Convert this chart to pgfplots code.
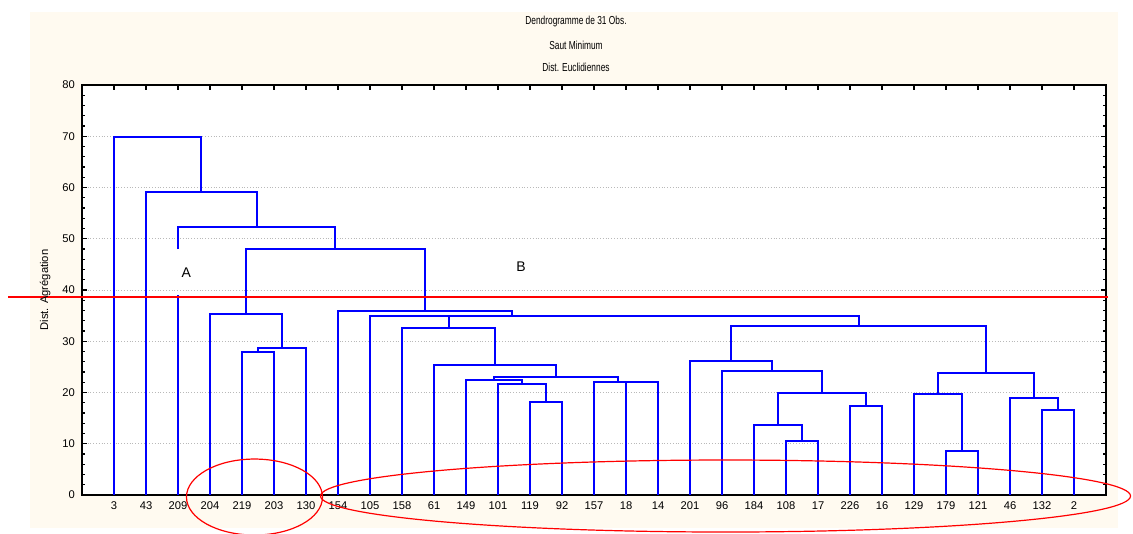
\documentclass[border=0pt]{standalone}
\usepackage{fontspec}
\setmainfont{Liberation Sans}
\newfontfamily\narrowfont[FakeStretch=0.72]{Liberation Sans}
\usepackage{pgfplots}
\pgfplotsset{compat=1.18}
\definecolor{cream}{RGB}{255,250,240}
\definecolor{dblue}{RGB}{0,0,255}
\newcommand{\lnk}[5]{\addplot[dend] coordinates {(#1,#2) (#1,#5) (#3,#5) (#3,#4)};}
\begin{document}
\begin{tikzpicture}
\useasboundingbox (0pt,0pt) rectangle (566.5pt,267pt);
\fill[white] (0pt,0pt) rectangle (566.5pt,267pt);
\fill[cream] (15pt,3pt) rectangle (559pt,261pt);
\node[font=\narrowfont\fontsize{5.8}{6}\selectfont] at (288pt,256pt) {Dendrogramme de 31 Obs.};
\node[font=\narrowfont\fontsize{5.8}{6}\selectfont] at (288pt,244.5pt) {Saut Minimum};
\node[font=\narrowfont\fontsize{5.8}{6}\selectfont] at (288pt,233.5pt) {Dist. Euclidiennes};
\begin{axis}[
  scale only axis, width=512pt, height=205pt,
  at={(41pt,19.5pt)}, anchor=south west,
  xmin=0, xmax=32, ymin=0, ymax=80,
  axis background/.style={fill=white},
  xtick={1,...,31},
  xticklabels={3,43,209,204,219,203,130,154,105,158,61,149,101,119,92,157,18,14,201,96,184,108,17,226,16,129,179,121,46,132,2},
  ytick={0,10,...,80}, minor y tick num=4,
  tick align=inside,
  major tick length=2.5pt, minor tick length=1.5pt,
  tick style={black, line width=0.6pt},
  ymajorgrids, grid style={densely dotted, gray!55, line width=0.5pt},
  axis line style={black, line width=0.8pt},
  /pgf/number format/assume math mode=true,
  ticklabel style={font=\fontsize{5.6}{6}\selectfont},
  ylabel={Dist. Agrégation},
  ylabel style={at={(axis description cs:-0.036,0.5)}, anchor=center, font=\fontsize{5.6}{6}\selectfont},
  clip=false,
  dend/.style={dblue, line width=1pt, line join=miter, mark=none},
]
\lnk{5}{0}{6}{0}{28.0}
\lnk{5.5}{28.0}{7}{0}{28.75}
\lnk{4}{0}{6.25}{28.75}{35.25}
\lnk{14}{0}{15}{0}{18.1}
\lnk{13}{0}{14.5}{18.1}{21.6}
\lnk{12}{0}{13.75}{21.6}{22.45}
\lnk{17}{0}{18}{0}{22.0}
\lnk{16}{0}{17.5}{22.0}{22.0}
\lnk{12.875}{22.45}{16.75}{22.0}{23.1}
\lnk{11}{0}{14.8125}{23.1}{25.4}
\lnk{10}{0}{12.906}{25.4}{32.5}
\lnk{22}{0}{23}{0}{10.55}
\lnk{21}{0}{22.5}{10.55}{13.6}
\lnk{24}{0}{25}{0}{17.4}
\lnk{21.75}{13.6}{24.5}{17.4}{20.0}
\lnk{20}{0}{23.125}{20.0}{24.25}
\lnk{19}{0}{21.5625}{24.25}{26.15}
\lnk{27}{0}{28}{0}{8.65}
\lnk{26}{0}{27.5}{8.65}{19.65}
\lnk{30}{0}{31}{0}{16.6}
\lnk{29}{0}{30.5}{16.6}{18.85}
\lnk{26.75}{19.65}{29.75}{18.85}{23.75}
\lnk{20.281}{26.15}{28.25}{23.75}{33.0}
\lnk{11.453}{32.5}{24.266}{33.0}{35.0}
\lnk{9}{0}{17.859}{35.0}{35.0}
\lnk{8}{0}{13.43}{35.0}{36.0}
\lnk{5.125}{35.25}{10.715}{36.0}{48.0}
\lnk{3}{48.0}{7.92}{48.0}{52.35}
\addplot[dend] coordinates {(3,0) (3,39)};
\lnk{2}{0}{5.46}{52.35}{59.1}
\lnk{1}{0}{3.73}{59.1}{69.9}
\draw[red, line width=1pt] (axis cs:-2.31,38.6) -- (axis cs:32.06,38.6);
\node[font=\fontsize{7}{8}\selectfont] at (axis cs:3.26,43.4) {A};
\node[font=\fontsize{7}{8}\selectfont] at (axis cs:13.72,44.5) {B};
\draw[red, line width=0.6pt] (axis cs:5.39,-0.4) ellipse [x radius=34pt, y radius=19pt];
\draw[red, line width=0.6pt] (axis cs:20.11,-0.2) ellipse [x radius=202.5pt, y radius=18pt];
\end{axis}
\end{tikzpicture}
\end{document}
